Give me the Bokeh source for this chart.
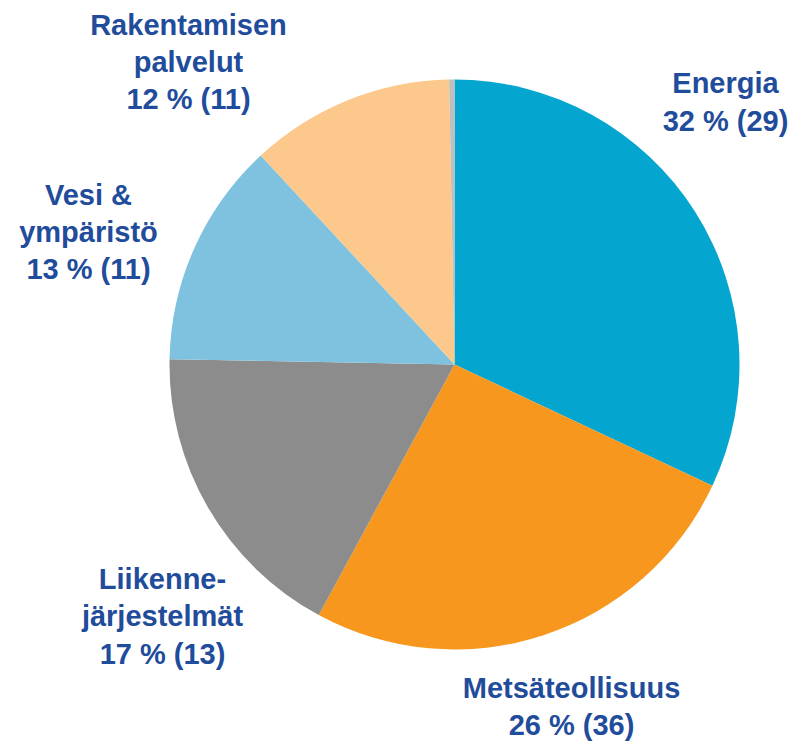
import math
from bokeh.plotting import figure
from bokeh.models import Range1d, ColumnDataSource
from bokeh.core.properties import value
from bokeh.embed import file_html
from bokeh.resources import INLINE

# Data (clockwise from 12 o'clock)
names = ["Energia", "Metsäteollisuus", "Liikenne-\njärjestelmät", "Vesi &\nympäristö",
         "Rakentamisen\npalvelut", ""]
shares = [32.0, 25.9, 17.4, 12.8, 11.6, 0.3]
pct_labels = ["32 %", "26 %", "17 %", "13 %", "12 %", ""]
counts = ["29", "36", "13", "11", "11", ""]
colors = ["#04A6CF", "#F7971E", "#8C8C8C", "#7FC2E0", "#FCC88B", "#BFBFBF"]

# Layout / style
W, H = 794, 741
cx, cy, r = 454, 377, 285
label_pos = [(725, 639.5), (571, 35), (162, 125), (88, 509.5), (188, 679.5), None]

p = figure(width=W, height=H, output_backend="svg", toolbar_location=None,
           x_axis_type=None, y_axis_type=None, min_border=0,
           x_range=Range1d(0, W), y_range=Range1d(0, H))
p.grid.visible = False
p.outline_line_color = None

total = sum(shares)
starts, ends = [], []
cum = 0.0
for s in shares:
    starts.append(math.pi / 2 - 2 * math.pi * cum / total)
    cum += s
    ends.append(math.pi / 2 - 2 * math.pi * cum / total)

src = ColumnDataSource(dict(x=[cx] * len(shares), y=[cy] * len(shares),
                            start=starts, end=ends, color=colors))
p.wedge(x="x", y="y", radius=r, start_angle="start", end_angle="end",
        direction="clock", fill_color="color", line_color=None, source=src)

lx, ly, lt = [], [], []
for n, pc, c, pos in zip(names, pct_labels, counts, label_pos):
    if pos is None:
        continue
    lx.append(pos[0])
    ly.append(pos[1])
    lt.append(f"{n}\n{pc} ({c})")

p.text(x=lx, y=ly, text=lt, text_align="center", text_baseline="middle",
       text_font=value("Liberation Sans"), text_font_style="bold",
       text_font_size="29px", text_color="#1F4C9B", text_line_height=1.17)

open("out.html", "w").write(file_html(p, INLINE))
